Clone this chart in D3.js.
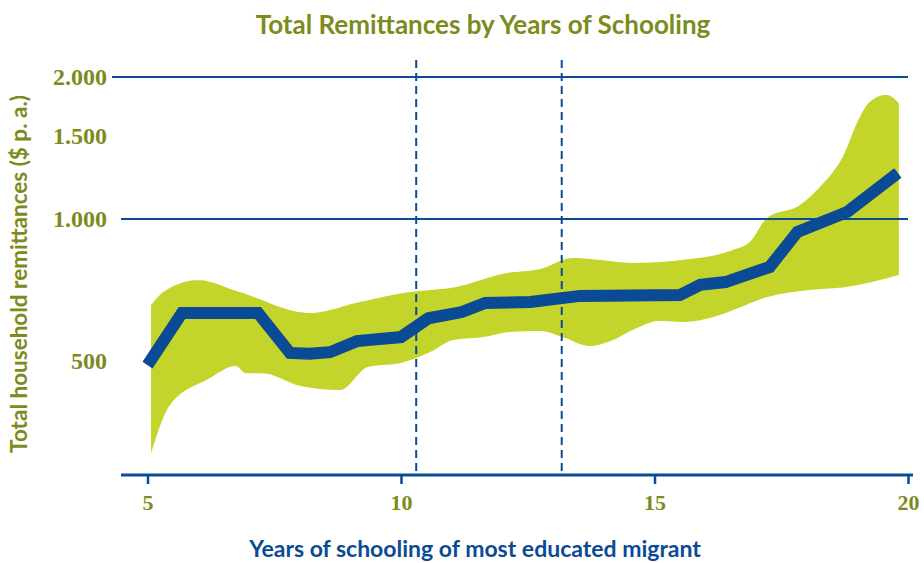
<!DOCTYPE html>
<html><head><meta charset="utf-8">
<script src="https://cdn.jsdelivr.net/npm/d3@7"></script>
<style>body{margin:0;background:#fff}svg{display:block}</style>
</head><body>
<svg id="c" width="924" height="563"></svg>
<script>
// Data
const lineX = [5.0, 5.68, 7.18, 7.81, 8.2, 8.6, 9.13, 10.0, 10.54, 11.2, 11.66, 12.55, 13.53, 15.5, 15.9, 16.4, 17.27, 17.82, 18.8, 19.8];
const lineY = [490, 632, 632, 520, 518, 522, 551, 562, 616, 635, 664, 667, 687, 690, 725, 735, 791, 939, 1035, 1252];

const bandX = [5.07, 5.31, 6.0, 6.82, 8.2, 9.19, 10.18, 10.57, 10.97, 12.09, 12.74, 13.39, 13.92, 14.57, 15.56, 16.29, 16.55, 16.88, 17.22, 17.87, 18.26, 18.71, 19.05, 19.24, 19.58, 19.82];
const bandUpper = [657, 700, 742, 700, 632, 667, 700, 707, 714, 768, 783, 827, 819, 807, 819, 843, 860, 894, 1005, 1071, 1169, 1353, 1645, 1770, 1832, 1760];

const lowX = [5.07, 5.44, 6.2, 6.74, 6.94, 7.26, 8.01, 8.8, 9.35, 9.98, 10.57, 11.03, 11.62, 12.15, 12.74, 13.19, 13.72, 14.18, 14.57, 15.1, 15.56, 16.29, 16.55, 17.22, 18.06, 18.79, 19.82];
const bandLower = [319, 403, 458, 488, 471, 471, 443, 434, 486, 495, 522, 554, 562, 576, 579, 562, 538, 554, 582, 608, 605, 626, 641, 683, 707, 718, 761];

const xTicks = [5, 10, 15, 20];
const yTicks = [500, 1000, 1500, 2000];
const yTickLabels = ["500", "1.000", "1.500", "2.000"];
const dashedX = [10.3, 13.17];

const OLIVE = "#7b8b1c", BLUE = "#0b4a94", BAND = "#c3d42b";

const svg = d3.select("#c");
const x = d3.scaleLinear().domain([5, 20]).range([147.5, 908]);
const y = d3.scaleLog().domain([1000, 2000]).range([219, 77]);
const yBottom = 475;

// Title
svg.append("text").attr("x", 483).attr("y", 34).attr("text-anchor", "middle")
  .attr("fill", OLIVE).attr("font-family", "Lato, 'Open Sans', sans-serif").attr("font-weight", "bold")
  .attr("font-size", 26).text("Total Remittances by Years of Schooling");

// Band polygon
const svgNode = svg.node();
function sampler(pts) {
  const p = document.createElementNS("http://www.w3.org/2000/svg", "path");
  p.setAttribute("d", d3.line().curve(d3.curveMonotoneX)(pts));
  svgNode.appendChild(p);
  const L = p.getTotalLength(); const out = [];
  for (let i = 0; i <= 400; i++) { const q = p.getPointAtLength(L * i / 400); out.push([q.x, q.y]); }
  p.remove(); return out;
}
const upperPts = bandX.map((d, i) => [x(d), y(bandUpper[i])]);
const lowerPts = lowX.map((d, i) => [x(d), y(bandLower[i])]);
const upS = sampler(upperPts), lowS = sampler(lowerPts);
const poly = upS.concat(lowS.reverse());
svg.append("path").attr("fill", BAND).attr("d", "M" + poly.map(p => p.join(",")).join("L") + "Z");

// Gridlines
svg.append("line").attr("x1", 112).attr("x2", 908).attr("y1", y(2000)).attr("y2", y(2000)).attr("stroke", BLUE).attr("stroke-width", 2);
svg.append("line").attr("x1", 121).attr("x2", 908).attr("y1", y(1000)).attr("y2", y(1000)).attr("stroke", BLUE).attr("stroke-width", 2);

// Dashed verticals
dashedX.forEach(d => {
  svg.append("line").attr("x1", x(d)).attr("x2", x(d)).attr("y1", 60).attr("y2", yBottom)
    .attr("stroke", BLUE).attr("stroke-width", 2).attr("stroke-dasharray", "8,5");
});

// Main line
svg.append("path").datum(lineX.map((d, i) => [x(d), y(lineY[i])]))
  .attr("fill", "none").attr("stroke", BLUE).attr("stroke-width", 12).attr("stroke-linejoin", "miter").attr("stroke-miterlimit", 2)
  .attr("d", d3.line());

// X axis
const xg = svg.append("g").attr("transform", `translate(0,${yBottom})`)
  .call(d3.axisBottom(x).tickValues(xTicks).tickSize(9).tickPadding(10).tickFormat(d3.format("d")));
xg.select(".domain").remove();
xg.insert("line", ":first-child").attr("x1", 121).attr("x2", 913).attr("y1", 0).attr("y2", 0).attr("stroke", BLUE).attr("stroke-width", 3);
xg.selectAll(".tick line").attr("stroke", BLUE).attr("stroke-width", 2.5);
xg.selectAll(".tick text").attr("fill", OLIVE).attr("font-family", "'Liberation Serif', serif").attr("font-weight", "bold").attr("font-size", 22);

// Y labels
const yg = svg.append("g").attr("transform", "translate(107,0)")
  .call(d3.axisLeft(y).tickValues(yTicks).tickSize(0).tickPadding(0).tickFormat((d, i) => yTickLabels[i]));
yg.select(".domain").remove();
yg.selectAll(".tick text").attr("fill", OLIVE).attr("font-family", "'Liberation Serif', serif").attr("font-weight", "bold").attr("font-size", 24);

// Axis titles
svg.append("text").attr("transform", "translate(27,274) rotate(-90)").attr("text-anchor", "middle")
  .attr("fill", OLIVE).attr("font-family", "Lato, sans-serif").attr("font-weight", "bold").attr("font-size", 22.5)
  .text("Total household remittances ($ p. a.)");
svg.append("text").attr("x", 475).attr("y", 557).attr("text-anchor", "middle")
  .attr("fill", BLUE).attr("font-family", "Lato, sans-serif").attr("font-weight", "bold").attr("font-size", 23)
  .text("Years of schooling of most educated migrant");
</script>
</body></html>
